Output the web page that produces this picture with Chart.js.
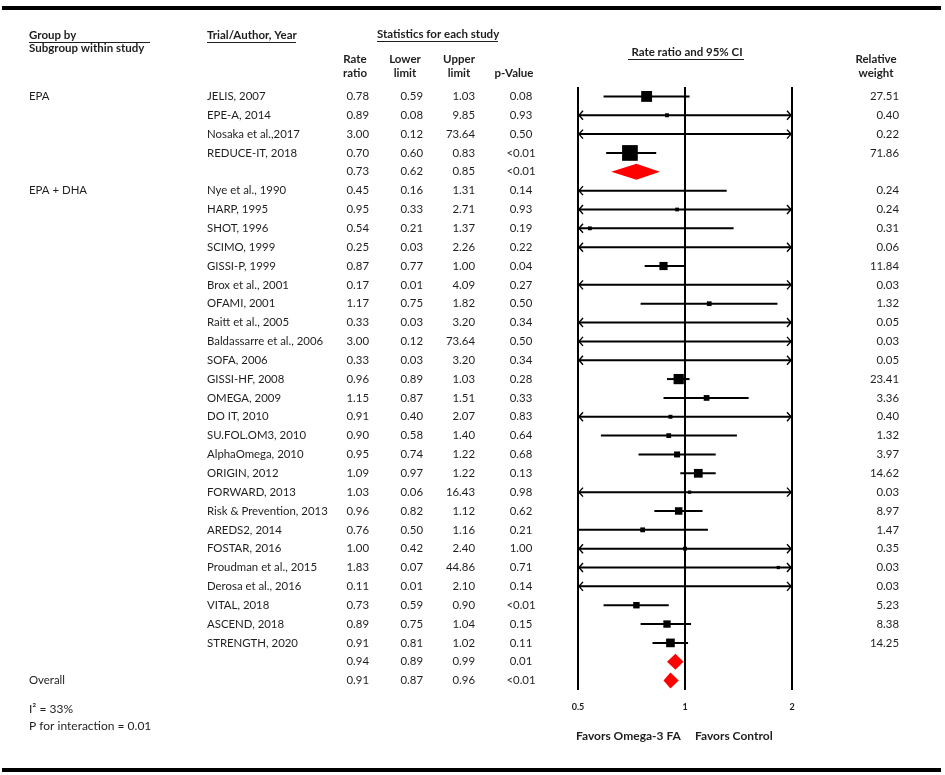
<!DOCTYPE html>
<html>
<head>
<meta charset="utf-8">
<script src="https://cdn.jsdelivr.net/npm/chart.js@4"></script>
<style>
  html, body { margin: 0; padding: 0; background: #fff; }
  #wrap { width: 945px; height: 775px; }
</style>
</head>
<body>
<div id="wrap"><canvas id="forest" width="945" height="775"></canvas></div>
<script>
// ===== DATA =====
const groupLabels = ['EPA','','','','', 'EPA + DHA','','','','','','','','','','','','','','','','','','','','','','','','','', 'Overall'];
const studyNames = [
  'JELIS, 2007', 'EPE-A, 2014', 'Nosaka et al.,2017', 'REDUCE-IT, 2018', '',
  'Nye et al., 1990', 'HARP, 1995', 'SHOT, 1996', 'SCIMO, 1999', 'GISSI-P, 1999',
  'Brox et al., 2001', 'OFAMI, 2001', 'Raitt et al., 2005', 'Baldassarre et al., 2006', 'SOFA, 2006',
  'GISSI-HF, 2008', 'OMEGA, 2009', 'DO IT, 2010', 'SU.FOL.OM3, 2010', 'AlphaOmega, 2010',
  'ORIGIN, 2012', 'FORWARD, 2013', 'Risk & Prevention, 2013', 'AREDS2, 2014', 'FOSTAR, 2016',
  'Proudman et al., 2015', 'Derosa et al., 2016', 'VITAL, 2018', 'ASCEND, 2018', 'STRENGTH, 2020',
  '', ''
];
const rateRatio = [0.78, 0.89, 3.00, 0.70, 0.73,
  0.45, 0.95, 0.54, 0.25, 0.87, 0.17, 1.17, 0.33, 3.00, 0.33,
  0.96, 1.15, 0.91, 0.90, 0.95, 1.09, 1.03, 0.96, 0.76, 1.00,
  1.83, 0.11, 0.73, 0.89, 0.91, 0.94, 0.91];
const lowerLimit = [0.59, 0.08, 0.12, 0.60, 0.62,
  0.16, 0.33, 0.21, 0.03, 0.77, 0.01, 0.75, 0.03, 0.12, 0.03,
  0.89, 0.87, 0.40, 0.58, 0.74, 0.97, 0.06, 0.82, 0.50, 0.42,
  0.07, 0.01, 0.59, 0.75, 0.81, 0.89, 0.87];
const upperLimit = [1.03, 9.85, 73.64, 0.83, 0.85,
  1.31, 2.71, 1.37, 2.26, 1.00, 4.09, 1.82, 3.20, 73.64, 3.20,
  1.03, 1.51, 2.07, 1.40, 1.22, 1.22, 16.43, 1.12, 1.16, 2.40,
  44.86, 2.10, 0.90, 1.04, 1.02, 0.99, 0.96];
const pValues = ['0.08', '0.93', '0.50', '<0.01', '<0.01',
  '0.14', '0.93', '0.19', '0.22', '0.04', '0.27', '0.50', '0.34', '0.50', '0.34',
  '0.28', '0.33', '0.83', '0.64', '0.68', '0.13', '0.98', '0.62', '0.21', '1.00',
  '0.71', '0.14', '<0.01', '0.15', '0.11', '0.01', '<0.01'];
const weights = [27.51, 0.40, 0.22, 71.86, null,
  0.24, 0.24, 0.31, 0.06, 11.84, 0.03, 1.32, 0.05, 0.03, 0.05,
  23.41, 3.36, 0.40, 1.32, 3.97, 14.62, 0.03, 8.97, 1.47, 0.35,
  0.03, 0.03, 5.23, 8.38, 14.25, null, null];
const summaryRows = [4, 30, 31];
const xTicks = [0.5, 1, 2];

const FONT = 'Lato, "Open Sans", sans-serif';
const INK = '#1e1e1e';

const isSummary = i => summaryRows.includes(i);
const studyPoints = rateRatio.map((r, i) => isSummary(i) ? null : { x: r, y: i }).filter(Boolean);
const studyWeights = weights.filter((w, i) => !isSummary(i));

// ===== FOREST PLUGIN =====
const forestPlugin = {
  id: 'forest',
  beforeDatasetsDraw(chart) {
    const { ctx, chartArea: a, scales: { x, y } } = chart;
    ctx.save();
    ctx.strokeStyle = '#000';
    // reference lines at 0.5, 1, 2
    ctx.lineWidth = 2;
    xTicks.forEach(t => {
      const px = Math.round(x.getPixelForValue(t));
      ctx.beginPath(); ctx.moveTo(px, a.top); ctx.lineTo(px, a.bottom); ctx.stroke();
    });
    // confidence intervals
    rateRatio.forEach((r, i) => {
      if (isSummary(i)) return;
      const py = y.getPixelForValue(i);
      const lo = Math.max(lowerLimit[i], x.min), hi = Math.min(upperLimit[i], x.max);
      const x0 = x.getPixelForValue(lo), x1 = x.getPixelForValue(hi);
      ctx.lineWidth = 2;
      ctx.beginPath(); ctx.moveTo(x0, py); ctx.lineTo(x1, py); ctx.stroke();
      ctx.lineWidth = 1.4;
      if (lowerLimit[i] < x.min) {
        ctx.beginPath(); ctx.moveTo(x0 + 5, py - 4.5); ctx.lineTo(x0 + 1, py); ctx.lineTo(x0 + 5, py + 4.5); ctx.stroke();
      }
      if (upperLimit[i] > x.max) {
        ctx.beginPath(); ctx.moveTo(x1 - 5, py - 4.5); ctx.lineTo(x1 - 1, py); ctx.lineTo(x1 - 5, py + 4.5); ctx.stroke();
      }
    });
    ctx.restore();
  },
  afterDatasetsDraw(chart) {
    const { ctx, scales: { x, y } } = chart;
    ctx.save();
    ctx.fillStyle = '#ff0000';
    summaryRows.forEach(i => {
      const py = y.getPixelForValue(i);
      const x0 = x.getPixelForValue(lowerLimit[i]);
      const x1 = x.getPixelForValue(upperLimit[i]);
      const xm = x.getPixelForValue(rateRatio[i]);
      ctx.beginPath();
      ctx.moveTo(x0, py); ctx.lineTo(xm, py - 8); ctx.lineTo(x1, py); ctx.lineTo(xm, py + 8);
      ctx.closePath(); ctx.fill();
    });
    ctx.restore();
  },
  afterDraw(chart) {
    const { ctx, scales: { x, y } } = chart;
    ctx.save();
    ctx.fillStyle = INK;
    ctx.strokeStyle = INK;
    const txt = (s, px, py, align, font) => {
      ctx.font = font; ctx.textAlign = align; ctx.textBaseline = 'middle';
      ctx.fillText(s, px, py);
    };
    const uline = (x0, x1, py) => {
      ctx.lineWidth = 1; ctx.beginPath(); ctx.moveTo(x0, py + 0.5); ctx.lineTo(x1, py + 0.5); ctx.stroke();
    };
    const bold = 'bold 11.5px ' + FONT, reg = '11.4px ' + FONT;

    // top and bottom rules
    ctx.fillStyle = '#000';
    ctx.fillRect(2, 6, 939, 4);
    ctx.fillRect(2, 768, 939, 4);
    ctx.fillStyle = INK;

    // headers
    txt('Group by', 29, 35, 'left', bold);
    uline(29, 150, 42);
    txt('Subgroup within study', 29, 48, 'left', bold);
    txt('Trial/Author, Year', 207, 35, 'left', bold);
    uline(207, 296, 42);
    txt('Statistics for each study', 377, 34, 'left', bold);
    uline(377, 498, 41);
    txt('Rate', 355, 59, 'center', bold); txt('ratio', 355, 73, 'center', bold);
    txt('Lower', 405, 59, 'center', bold); txt('limit', 405, 73, 'center', bold);
    txt('Upper', 459, 59, 'center', bold); txt('limit', 459, 73, 'center', bold);
    txt('p-Value', 514, 73, 'center', bold);
    txt('Rate ratio and 95% CI', 687, 52, 'center', bold);
    uline(628, 744, 59);
    txt('Relative', 876, 59, 'center', bold); txt('weight', 876, 73, 'center', bold);

    // table rows
    rateRatio.forEach((r, i) => {
      const py = y.getPixelForValue(i);
      if (groupLabels[i]) txt(groupLabels[i], 29, py, 'left', reg);
      if (studyNames[i]) txt(studyNames[i], 207, py, 'left', reg);
      txt(r.toFixed(2), 369, py, 'right', reg);
      txt(lowerLimit[i].toFixed(2), 423, py, 'right', reg);
      txt(upperLimit[i].toFixed(2), 475, py, 'right', reg);
      txt(pValues[i], 521, py, 'center', reg);
      if (weights[i] != null) txt(weights[i].toFixed(2), 899, py, 'right', reg);
    });

    // axis tick labels
    xTicks.forEach(t => txt(String(t), x.getPixelForValue(t), 707, 'center', 'bold 9px ' + FONT));
    txt('Favors Omega-3 FA', 576, 736, 'left', 'bold 12px ' + FONT);
    txt('Favors Control', 695, 736, 'left', 'bold 12px ' + FONT);

    // footnotes
    txt('I\u00B2 = 33%', 29, 709, 'left', '12px ' + FONT);
    txt('P for interaction = 0.01', 29, 726, 'left', '12px ' + FONT);
    ctx.restore();
  }
};

// ===== CHART =====
new Chart(document.getElementById('forest'), {
  type: 'scatter',
  data: {
    datasets: [{
      data: studyPoints,
      pointStyle: 'rect',
      backgroundColor: '#000',
      borderColor: '#000',
      borderWidth: 0,
      pointRadius: studyWeights.map(w => (3 + 1.5 * Math.sqrt(w)) * Math.SQRT1_2),
      clip: 0
    }]
  },
  options: {
    responsive: false,
    animation: false,
    events: [],
    layout: { padding: { left: 578, right: 153, top: 87, bottom: 85 } },
    plugins: { legend: { display: false }, tooltip: { enabled: false } },
    scales: {
      x: { type: 'logarithmic', min: 0.5, max: 2, display: false },
      y: { type: 'linear', min: -0.5, max: 31.5, reverse: true, display: false }
    }
  },
  plugins: [forestPlugin]
});
</script>
</body>
</html>
